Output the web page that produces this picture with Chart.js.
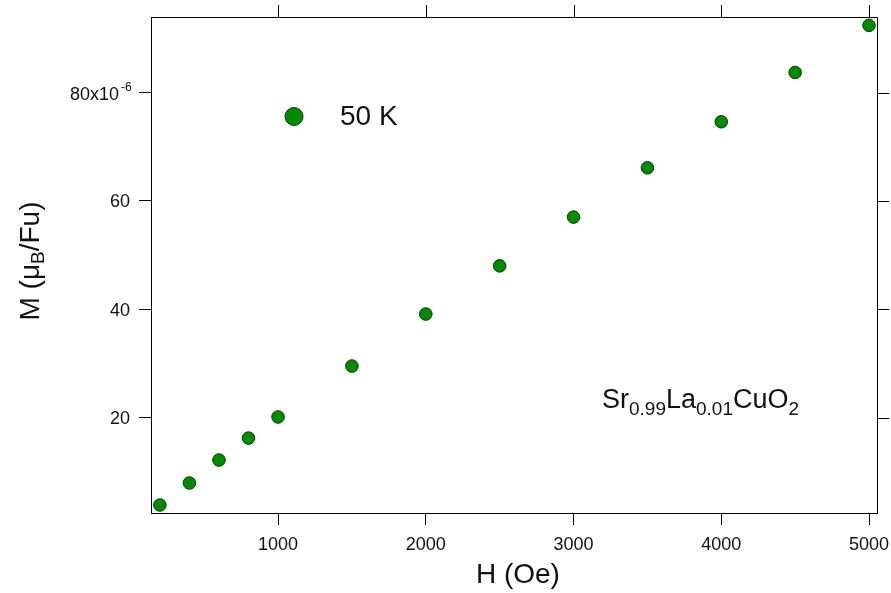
<!DOCTYPE html>
<html><head><meta charset="utf-8">
<script src="https://cdn.jsdelivr.net/npm/chart.js@4"></script>
<style>html,body{margin:0;padding:0;background:#fff;}canvas{display:block;}</style>
</head><body>
<canvas id="c" width="891" height="593"></canvas>
<script>
// Data (magnetization in units of 1e-6 μB/Fu)
const fieldOe = [200, 400, 600, 800, 1000, 1500, 2000, 2500, 3000, 3500, 4000, 4500, 5000];
const magnetization = [3.85, 7.91, 12.15, 16.2, 20.1, 29.5, 39.1, 48.0, 57.0, 66.1, 74.6, 83.7, 92.4];
const xTickValues = [1000, 2000, 3000, 4000, 5000];
const yTickValues = [20, 40, 60, 80];
const seriesLabel = '50 K';
const sampleName = [['Sr', false], ['0.99', true], ['La', false], ['0.01', true], ['CuO', false], ['2', true]];

const FONT = '"Liberation Sans", Arial, sans-serif';
const FILL = '#008a00';
const EDGE = '#0c3a0c';

function drawRich(ctx, parts, x, y, big, small, subShift) {
  let cx = x;
  for (const [t, sub] of parts) {
    ctx.font = (sub ? small : big) + 'px ' + FONT;
    ctx.fillText(t, cx, sub ? y + subShift : y);
    cx += ctx.measureText(t).width;
  }
  return cx - x;
}
function richWidth(ctx, parts, big, small) {
  let w = 0;
  for (const [t, sub] of parts) { ctx.font = (sub ? small : big) + 'px ' + FONT; w += ctx.measureText(t).width; }
  return w;
}

const deco = {
  id: 'deco',
  afterDraw(chart) {
    const {ctx, chartArea: a, scales: {x, y}} = chart;
    const ds = chart.data.datasets[0];
    ctx.save();
    ctx.strokeStyle = '#000'; ctx.lineWidth = 1;
    ctx.beginPath();
    ctx.moveTo(a.left, a.top + 0.5); ctx.lineTo(a.right + 0.5, a.top + 0.5);
    ctx.lineTo(a.right + 0.5, a.bottom);
    ctx.stroke();
    ctx.beginPath();
    for (const v of xTickValues) { const px = Math.round(x.getPixelForValue(v)) + 0.5; ctx.moveTo(px, a.top); ctx.lineTo(px, a.top - 12); }
    for (const v of yTickValues) { const py = Math.round(y.getPixelForValue(v)) + 0.5; ctx.moveTo(a.right, py); ctx.lineTo(a.right + 12, py); }
    ctx.stroke();
    ctx.fillStyle = '#111';
    const p80 = y.getPixelForValue(80) + 2.5;
    ctx.font = '18px ' + FONT; ctx.textAlign = 'right'; ctx.textBaseline = 'middle';
    ctx.fillText('80x10', 119, p80);
    ctx.font = '12px ' + FONT; ctx.textAlign = 'left';
    ctx.fillText('-6', 121, p80 - 7);
    ctx.beginPath(); ctx.arc(294, 116.5, 9, 0, Math.PI * 2);
    ctx.fillStyle = ds.backgroundColor; ctx.fill();
    ctx.strokeStyle = ds.borderColor; ctx.stroke();
    ctx.fillStyle = '#111'; ctx.textBaseline = 'alphabetic'; ctx.textAlign = 'left';
    ctx.font = '28px ' + FONT;
    ctx.fillText(ds.label, 340, 125);
    drawRich(ctx, sampleName, 602, 408, 27, 19, 7);
    const yTitle = [['M (\u03bc', false], ['B', true], ['/Fu)', false]];
    ctx.translate(39, 261); ctx.rotate(-Math.PI / 2);
    const w = richWidth(ctx, yTitle, 28, 19);
    drawRich(ctx, yTitle, -w / 2, 0, 28, 19, 5);
    ctx.restore();
  }
};

new Chart(document.getElementById('c'), {
  type: 'scatter',
  data: { datasets: [{
    label: seriesLabel,
    data: fieldOe.map((h, i) => ({x: h, y: magnetization[i]})),
    backgroundColor: FILL, borderColor: EDGE, borderWidth: 1, pointRadius: 6.3, pointHoverRadius: 6.3
  }]},
  options: {
    responsive: false, animation: false, devicePixelRatio: 1,
    layout: { padding: { top: 17, right: 14, left: 0, bottom: 0 } },
    plugins: { legend: { display: false }, tooltip: { enabled: false } },
    scales: {
      x: {
        type: 'linear', min: 140, max: 5054,
        afterFit(s) { s.height = 80; s.paddingLeft = 0; s.paddingRight = 0; },
        afterBuildTicks(s) { s.ticks = xTickValues.map(v => ({value: v})); },
        grid: { drawOnChartArea: false, drawTicks: true, tickLength: 12, color: '#000', lineWidth: 1 },
        border: { display: true, color: '#000', width: 1 },
        ticks: { color: '#111', font: { family: FONT, size: 18 }, padding: 9, maxRotation: 0,
          callback: v => String(v) },
        title: { display: true, text: ' H (Oe)', color: '#111', font: { family: FONT, size: 28 }, padding: { top: 0, bottom: 1 } }
      },
      y: {
        type: 'linear', min: 2.37, max: 93.94,
        afterFit(s) { s.width = 151; s.paddingTop = 0; s.paddingBottom = 0; },
        afterBuildTicks(s) { s.ticks = yTickValues.map(v => ({value: v})); },
        grid: { drawOnChartArea: false, drawTicks: true, tickLength: 12, color: '#000', lineWidth: 1 },
        border: { display: true, color: '#000', width: 1 },
        ticks: { color: '#111', font: { family: FONT, size: 18 }, padding: 9, labelOffset: 1.5,
          callback: v => v === 80 ? '' : String(v) }
      }
    }
  },
  plugins: [deco]
});
</script>
</body></html>
